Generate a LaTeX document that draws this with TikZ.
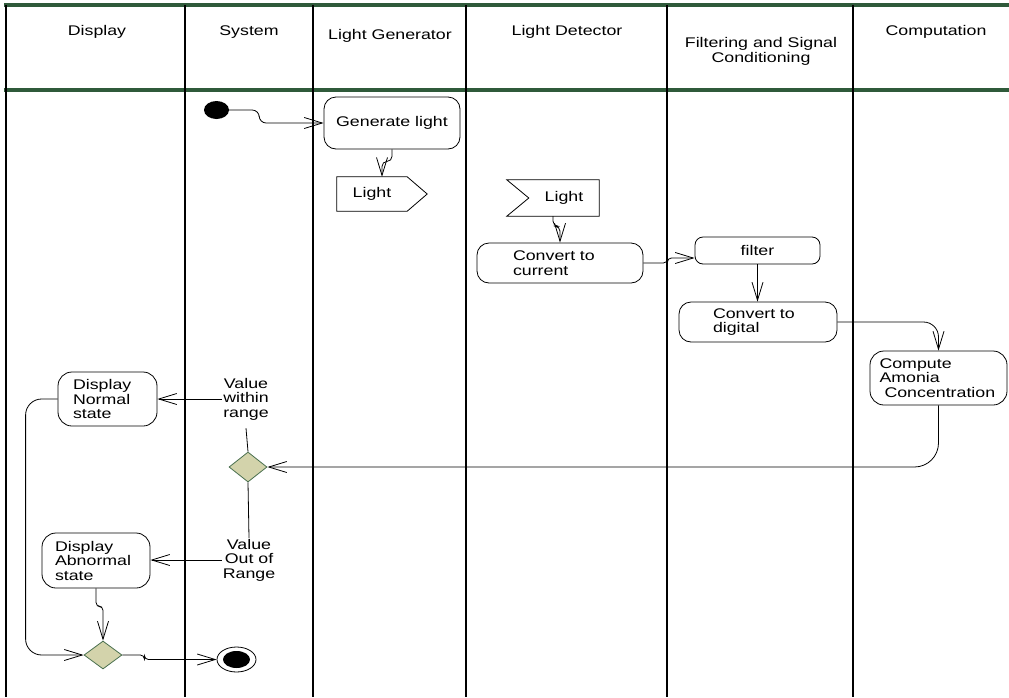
\documentclass[tikz,border=0pt]{standalone}
\usepackage{fontspec}
\setmainfont{Liberation Sans}[FakeStretch=1.27]
\usetikzlibrary{shapes.geometric,arrows.meta}
\definecolor{lanegreen}{HTML}{2F5A3A}
\definecolor{decfill}{HTML}{D3D3AB}
\definecolor{decdraw}{HTML}{4A704F}
\begin{document}
\begin{tikzpicture}[x=1pt,y=-1pt,
  every node/.style={font=\fontsize{14}{14.5}\selectfont},
  lane/.style={line width=2.6pt,black},
  hline/.style={line width=3.2pt,lanegreen},
  hdr/.style={anchor=base,inner sep=0pt},
  act/.style={draw,line width=0.8pt,rounded corners=12pt,inner sep=0pt},
  sig/.style={inner sep=0pt},
  sigline/.style={line width=0.8pt},
  dec/.style={diamond,draw=decdraw,fill=decfill,line width=0.8pt,inner sep=0pt,minimum width=38pt,minimum height=30pt},
  guard/.style={align=center,inner sep=1pt},
  conn/.style={line width=0.8pt},
  flow/.style={line width=0.8pt,-{Straight Barb[length=18pt,width=11pt]}},
]
\useasboundingbox (0,0) rectangle (1009,697);
\fill[white] (0,0) rectangle (1009,697);
% swimlane frame
\draw[hline] (4,5) -- (1009,5);
\draw[hline] (4,90) -- (1009,90);
\foreach \x in {6,185,313,466,667,853} \draw[lane] (\x,5) -- (\x,697);
% headers
\node[hdr] (hDisp) at (97,35) {Display};
\node[hdr] (hSys) at (249,35) {System};
\node[hdr] (hGen) at (390,39) {Light Generator};
\node[hdr] (hDet) at (567,35) {Light Detector};
\node[align=center,inner sep=0pt] (hFil) at (761,51.5) {Filtering and Signal\\Conditioning};
\node[hdr] (hComp) at (936,35) {Computation};
% activity nodes
\node[ellipse,fill=black,minimum width=25pt,minimum height=18pt,inner sep=0pt] (init) at (216.5,110) {};
\node[act,minimum width=136pt,minimum height=52pt,align=center] (gen) at (392,123) {Generate light};
\node[sig,minimum width=70pt,minimum height=34pt] (send) at (372,194) {Light};
\draw[sigline] (send.north west) -- (send.north east) -- ([xshift=20pt]send.east) -- (send.south east) -- (send.south west) -- cycle;
\node[sig,minimum width=70pt,minimum height=36pt] (recv) at (564,198) {Light};
\draw[sigline] (recv.north east) -- ([xshift=-22pt]recv.north west) -- (recv.west) -- ([xshift=-22pt]recv.south west) -- (recv.south east) -- cycle;
\node[act,minimum width=166pt,minimum height=40pt,text width=94pt,align=left] (cc) at (560,263) {Convert to\\current};
\node[act,rounded corners=8pt,minimum width=125pt,minimum height=27pt,align=center] (filt) at (757.5,250.5) {filter};
\node[act,minimum width=158pt,minimum height=40pt,text width=90pt,align=left] (cd) at (758,322) {Convert to\\digital};
\node[act,rounded corners=14pt,minimum width=137pt,minimum height=54pt,text width=118pt,align=left] (comp) at (938.5,378) {Compute\\Amonia\\\hspace*{5pt}Concentration};
\node[dec] (dia1) at (248,467) {};
\node[guard] (lbl1) at (246,399) {Value\\within\\range};
\node[act,rounded corners=14pt,minimum width=99pt,minimum height=54pt,text width=69pt,align=left] (normal) at (107.5,399) {Display\\Normal\\state};
\node[guard] (lbl2) at (249,560) {Value\\Out of\\Range};
\node[act,rounded corners=14pt,minimum width=108pt,minimum height=55pt,text width=82pt,align=left] (abn) at (96,560.5) {Display\\Abnormal\\state};
\node[dec,minimum height=28pt] (dia2) at (103,655) {};
\node[draw,ellipse,line width=0.8pt,minimum width=39pt,minimum height=25pt,inner sep=0pt,fill=white] (final) at (236.5,659.5) {};
\node[ellipse,fill=black,minimum width=27pt,minimum height=17pt,inner sep=0pt] (finalIn) at (final.center) {};
% connectors
\draw[flow,rounded corners=7pt] (init.east) -- ++(30,0) |- (gen.west);
\draw[flow,rounded corners=5pt] (gen.south) -- ++(0,12) -| ([xshift=10pt]send.north);
\draw[flow,rounded corners=5pt] ([xshift=-11pt]recv.south) -- ++(0,10) -| (cc.north);
\draw[flow,rounded corners=4pt] (cc.east) -- ++(24,0) |- ([yshift=-7.5pt]filt.west);
\draw[flow] (filt.south) -- (filt.south |- cd.north);
\draw[flow,rounded corners=15pt] (cd.east) -| (comp.north);
\draw[flow,rounded corners=24pt] (comp.south) |- (dia1.east);
\draw[conn] (dia1.north) -- ([yshift=-7pt]lbl1.south);
\draw[flow] (lbl1.west) -- (lbl1.west -| normal.east);
\draw[flow,rounded corners=16pt] (normal.west) -- ++(-32,0) |- (dia2.west);
\draw[conn] (dia1.south) -- (lbl2.north);
\draw[flow] (lbl2.west) -- (lbl2.west -| abn.east);
\draw[flow,rounded corners=4pt] (abn.south) -- ++(0,18) -| (dia2.north);
\draw[flow,rounded corners=4pt] (dia2.east) -- ++(22,0) |- (final.west);
\end{tikzpicture}
\end{document}
